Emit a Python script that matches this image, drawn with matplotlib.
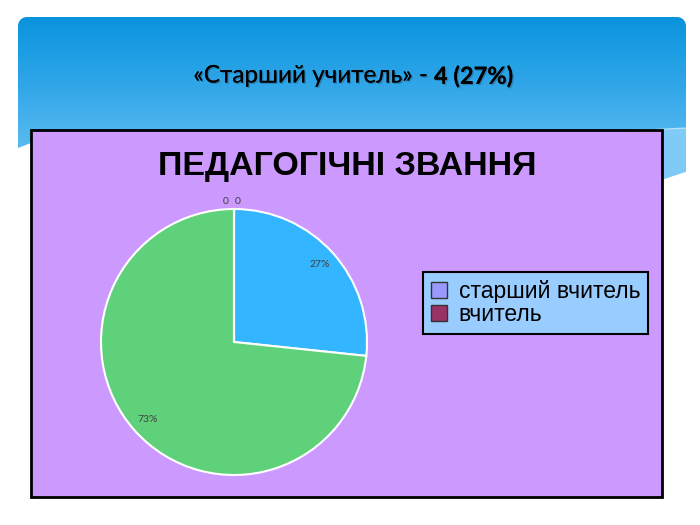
import numpy as np
import matplotlib
matplotlib.use("Agg")
import matplotlib.pyplot as plt
from matplotlib.patches import Rectangle, Polygon, Patch
import matplotlib.patheffects as pe

# data
slide_title_normal = "«Старший учитель» - "
slide_title_bold = "4 (27%)"
chart_title = "ПЕДАГОГІЧНІ ЗВАННЯ"
categories = ["старший вчитель", "вчитель", "", ""]
values = [4, 11, 0, 0]
pct_labels = ["27%", "73%", "0", "0"]
legend_names = ["старший вчитель", "вчитель"]
legend_colors = ["#9999ff", "#993366"]
pie_colors = ["#33b5ff", "#5fd17a", "#993366", "#ffffcc"]

fig = plt.figure(figsize=(7, 5.25), dpi=100)
fig.patch.set_facecolor("white")

# background axes in pixel coords
bg = fig.add_axes([0, 0, 1, 1])
bg.set_xlim(0, 700)
bg.set_ylim(525, 0)
bg.axis("off")

# header shape with rounded top corners
r = 9
left, right, top = 18, 686, 17
t = np.linspace(np.pi, 1.5 * np.pi, 12)
tl = np.column_stack([left + r + r * np.cos(t), top + r + r * np.sin(t)])
t2 = np.linspace(1.5 * np.pi, 2 * np.pi, 12)
tr = np.column_stack([right - r + r * np.cos(t2), top + r + r * np.sin(t2)])
header_pts = np.vstack([[[left, 148]], tl, tr, [[right, 172], [662, 180], [31, 143]]])
header = Polygon(header_pts, closed=True, fc="none", ec="none")
bg.add_patch(header)
grad = np.linspace(0, 1, 256).reshape(-1, 1)
cmap = matplotlib.colors.LinearSegmentedColormap.from_list(
    "hdr", ["#0a93dd", "#2fa6e8", "#5bbcf0"])
im = bg.imshow(grad, cmap=cmap, extent=(left, right, 150, top), aspect="auto", zorder=1)
im.set_clip_path(header)
# lighter wave on lower part
wave = Polygon([[500, 140], [686, 128], [686, 172], [662, 180], [500, 185]],
               closed=True, fc="#80cbf6", ec="none", zorder=1.5)
bg.add_patch(wave)
wave.set_clip_path(header)
bg.plot([560, 686], [134, 128], color="white", lw=0.8, alpha=0.6, zorder=1.6)

shadow = [pe.withSimplePatchShadow(offset=(1, -1), shadow_rgbFace="#1a2a40", alpha=0.3), pe.Normal()]
bg.text(428, 76, slide_title_normal.strip(), ha="right", va="center", fontsize=17.5,
        family="Lato", color="black", zorder=3, path_effects=shadow)
bg.text(434, 76, slide_title_bold, ha="left", va="center", fontsize=17,
        family="Lato", fontweight="bold", color="black", zorder=3, path_effects=shadow)

# purple chart area
bg.add_patch(Rectangle((31, 130), 631, 367, fc="#cc99ff", ec="black", lw=2, zorder=2))
bg.text(347, 166, chart_title, ha="center", va="center", fontsize=24.5,
        family="Liberation Sans", fontweight="bold", color="black", zorder=3)

# pie
cx, cy, rad = 234, 342, 133
ax = fig.add_axes([(cx - rad) / 700, (525 - cy - rad) / 525, 2 * rad / 700, 2 * rad / 525])
ax.set_zorder(3)
wedges, texts = ax.pie(values, colors=pie_colors, startangle=90, counterclock=False,
                       labels=pct_labels, labeldistance=0.87,
                       wedgeprops=dict(edgecolor="white", linewidth=1.5),
                       textprops=dict(fontsize=7.5, family="Lato", color="#404040"))
for tx in texts:
    tx.set_ha("center")
texts[2].set_position((-0.06, 1.06))
texts[3].set_position((0.03, 1.055))
ax.set_xlim(-1, 1)
ax.set_ylim(-1, 1)
ax.set_aspect("equal")
ax.axis("off")

handles = [Patch(fc=c, ec="#333333", lw=1) for c in legend_colors]
leg = fig.legend(handles, legend_names, loc="upper left",
                 bbox_to_anchor=(423 / 700, 1 - 272 / 525),
                 prop=dict(family="Liberation Sans", size=16.5),
                 handlelength=0.7, handleheight=0.7, handletextpad=0.5,
                 labelspacing=0.0, borderpad=0.35, borderaxespad=0,
                 fancybox=False, frameon=True)
leg.get_frame().set_facecolor("#99ccff")
leg.get_frame().set_edgecolor("black")
leg.get_frame().set_linewidth(1.5)
leg.get_frame().set_alpha(1)
leg.set_zorder(5)

fig.savefig("out.png", dpi=100)
